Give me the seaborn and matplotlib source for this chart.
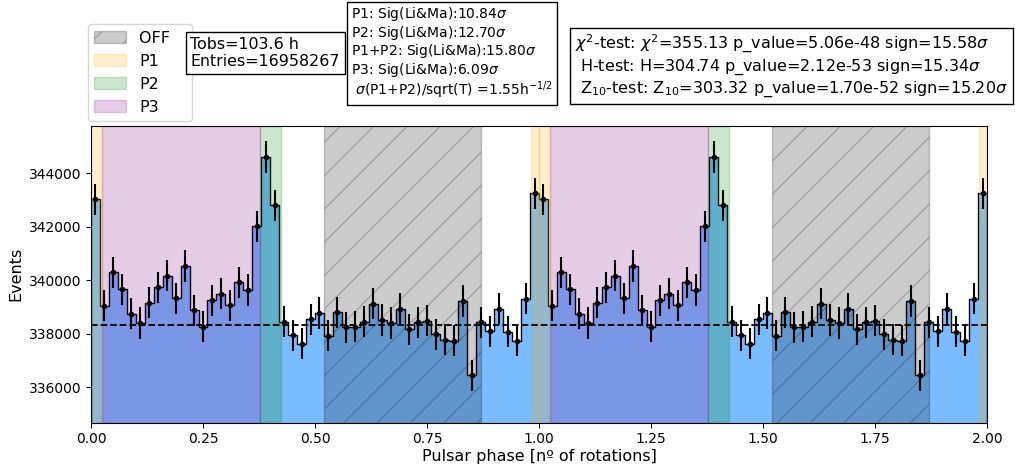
import numpy as np
import pandas as pd
import matplotlib
matplotlib.use("Agg")
import matplotlib.pyplot as plt
import seaborn as sns

# ---- data (one rotation, 50 phase bins; the chart shows two rotations) ----
counts_rot = [343030, 339060, 340300, 339670, 338760, 338410, 339160, 339740, 340170, 339330,
              340540, 338880, 338270, 339260, 339500, 339070, 339930, 339640, 342020, 344610,
              342800, 338450, 337950, 337630, 338550, 338780, 337930, 338810, 338250, 338270,
              338450, 339130, 338520, 338410, 338950, 338170, 338440, 338490, 337980, 337780,
              337740, 339230, 336450, 338440, 338100, 338950, 338080, 337740, 339320, 343250]
n_rotations = 2
baseline = 338330

off_ranges = [(0.52, 0.87)]
p1_ranges = [(0.0, 0.025), (0.982, 1.0)]
p2_ranges = [(0.377, 0.423)]
p3_ranges = [(0.025, 0.377)]

xticks = [0.00, 0.25, 0.50, 0.75, 1.00, 1.25, 1.50, 1.75, 2.00]
yticks = [336000, 338000, 340000, 342000, 344000]

info_text = "Tobs=103.6 h\nEntries=16958267"
sig_text = ("P1: Sig(Li&Ma):10.84$\\sigma$\n"
            "P2: Sig(Li&Ma):12.70$\\sigma$\n"
            "P1+P2: Sig(Li&Ma):15.80$\\sigma$\n"
            "P3: Sig(Li&Ma):6.09$\\sigma$\n"
            " $\\sigma$(P1+P2)/sqrt(T) =1.55h$^{-1/2}$")
test_text = ("$\\chi^2$-test: $\\chi^2$=355.13 p_value=5.06e-48 sign=15.58$\\sigma$\n"
             " H-test: H=304.74 p_value=2.12e-53 sign=15.34$\\sigma$\n"
             " Z$_{10}$-test: Z$_{10}$=303.32 p_value=1.70e-52 sign=15.20$\\sigma$")

# ---- build table ----
nb = len(counts_rot)
counts = np.tile(np.array(counts_rot, dtype=float), n_rotations)
nbins = nb * n_rotations
width = n_rotations / nbins
centers = (np.arange(nbins) + 0.5) * width
df = pd.DataFrame({"phase": centers, "events": counts})

fig = plt.figure(figsize=(10.15, 4.67), dpi=100)
ax = fig.add_axes([91 / 1015, 1 - 422.5 / 467, (987 - 91) / 1015, (422.5 - 126) / 467])

sns.histplot(data=df, x="phase", weights="events", bins=nbins, binrange=(0, n_rotations),
             element="step", fill=True, color="#79bcff", alpha=1.0, edgecolor="black",
             linewidth=1.0, ax=ax)

def spans(ranges, label, **kw):
    first = True
    for r in range(n_rotations):
        for a, b in ranges:
            ax.axvspan(a + r, b + r, label=label if first else None, **kw)
            first = False

spans(off_ranges, "OFF   ", color="black", alpha=0.2, hatch="/")
spans(p1_ranges, "P1", color="orange", alpha=0.2)
spans(p2_ranges, "P2", color="green", alpha=0.2)
spans(p3_ranges, "P3", color="purple", alpha=0.2)

ax.errorbar(df["phase"], df["events"], yerr=np.sqrt(df["events"]), fmt="o", ms=3,
            color="black", elinewidth=1.5, capsize=0, zorder=3)
ax.axhline(baseline, color="black", ls="--", lw=1.3, zorder=3)

ax.set_xlim(0, n_rotations)
ax.set_ylim(334690, 345770)
ax.set_xticks(xticks)
ax.set_xticklabels([f"{t:.2f}" for t in xticks])
ax.set_yticks(yticks)
ax.set_xlabel("Pulsar phase [nº of rotations]", fontsize=11.5, labelpad=2)
ax.set_ylabel("Events", fontsize=11.5)

ax.legend(loc="lower left", bbox_to_anchor=(88 / 1015, 1 - 121 / 467),
          bbox_transform=fig.transFigure, borderaxespad=0, fontsize=11.5)

box = dict(boxstyle="square", facecolor="white", edgecolor="black", pad=0.3)
fig.text(190.5 / 1015, 1 - 37 / 467, info_text, fontsize=11.4, va="top", ha="left",
         linespacing=1.2, bbox=box)
fig.text(351 / 1015, 1 - 5 / 467, sig_text, fontsize=10, va="top", ha="left",
         linespacing=1.05, bbox=box)
fig.text(575 / 1015, 1 - 33 / 467, test_text, fontsize=11.5, va="top", ha="left", bbox=box)

fig.savefig("out.png", dpi=100)
